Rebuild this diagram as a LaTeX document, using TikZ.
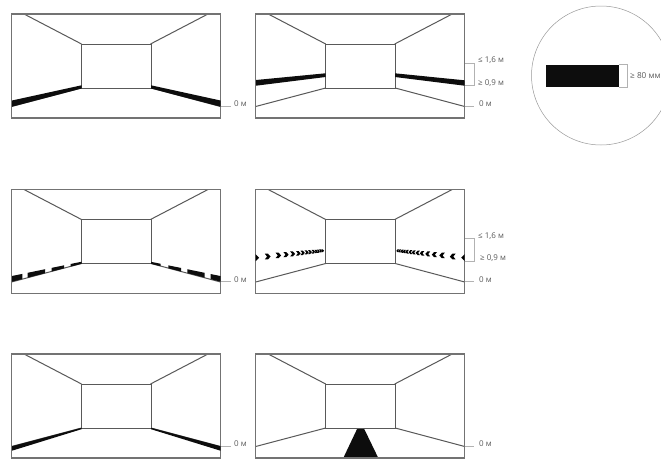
\documentclass[tikz,border=0pt]{standalone}
\usepackage{fontspec}
\setmainfont{Open Sans}
\tikzset{
  wall/.style={draw=black!65,line width=1pt},
  frame/.style={draw=black!55,line width=1.1pt},
  tick/.style={draw=black!30,line width=0.6pt},
  lbl/.style={anchor=west,inner sep=0pt,text=black!65,font=\fontsize{8}{9}\selectfont},
  band/.style={fill=black!95!white,draw=none},
}
% #1 x offset of the left frame edge, #2 y offset of the top frame edge
\newcommand{\roomframe}[2]{%
  \begin{scope}[shift={(#1,#2)}]
    \draw[wall] (12.5,0) -- (70,30) (196.5,0) -- (139,30);
    \draw[wall] (70,30) rectangle (139.5,74);
    \draw[wall] (70,74) -- (0,92.5) (139.5,74) -- (209,92.5);
    \draw[frame] (0,0) rectangle (209,104);
  \end{scope}}
\newcommand{\chevR}[3]{\fill[black] ({#1-.5*#3},{#2-.5*#3}) -- ({#1+.05*#3},{#2-.5*#3}) -- ({#1+.5*#3},#2) -- ({#1+.05*#3},{#2+.5*#3}) -- ({#1-.5*#3},{#2+.5*#3}) -- ({#1-.1*#3},#2) -- cycle;}
\newcommand{\chevL}[3]{\fill[black] ({#1+.5*#3},{#2-.5*#3}) -- ({#1-.05*#3},{#2-.5*#3}) -- ({#1-.5*#3},#2) -- ({#1-.05*#3},{#2+.5*#3}) -- ({#1+.5*#3},{#2+.5*#3}) -- ({#1+.1*#3},#2) -- cycle;}
\begin{document}
\begin{tikzpicture}[x=1pt,y=-1pt]
\useasboundingbox (0,0) rectangle (661,458);
\clip (0,0) rectangle (661,458);
\fill[white] (0,0) rectangle (661,458);

% Row 1
\roomframe{11.5}{14}
\fill[band] (12,100.5) -- (81.5,85.3) -- (81.5,88.5) -- (12,106.7) -- cycle;
\fill[band] (151,85.3) -- (220.5,100.5) -- (220.5,106.7) -- (151,88.5) -- cycle;
\roomframe{255.7}{14}
\fill[band] (256,80) -- (325.5,73.3) -- (325.5,77) -- (256,85.7) -- cycle;
\fill[band] (395,73.3) -- (464.5,80.3) -- (464.5,85.7) -- (395,77) -- cycle;

% Row 2, broken strips
\roomframe{11.5}{189.5}
\foreach \a/\b in {12/22.3,27.7/45,51.7/64,70.7/81.5}{
  \fill[band] (\a,{276-(\a-12)*0.205}) -- (\b,{276-(\b-12)*0.205}) --
              (\b,{281.7-(\b-12)*0.257}) -- (\a,{281.7-(\a-12)*0.257}) -- cycle;
}
\foreach \a/\b in {151/160.7,168.3/181,187.3/204.7,210.7/220.5}{
  \fill[band] (\a,{261.8+(\a-151)*0.205}) -- (\b,{261.8+(\b-151)*0.205}) --
              (\b,{263.8+(\b-151)*0.257}) -- (\a,{263.8+(\a-151)*0.257}) -- cycle;
}
\roomframe{255.7}{189.5}
% Row 2, chevrons
\fill[black] (255.7,254.2) -- (259.2,257.7) -- (255.7,261.2) -- cycle;
\fill[black] (464.7,254.2) -- (461.2,257.7) -- (464.7,261.2) -- cycle;
\foreach \v/\h in {53/5.8,85/5.5,108/5.2,128/4.9,145/4.6,158/4.3,170/4,180/3.8,190/3.6,198/3.4,205/3.2,212/3,218/2.9}{
  \pgfmathsetmacro{\px}{250+\v/3}
  \pgfmathsetmacro{\py}{257.7-(\px-256.7)*0.105}
  \chevR{\px}{\py}{\h}
  \pgfmathsetmacro{\qx}{720.4-\px}
  \chevL{\qx}{\py}{\h}
}

% Row 3
\roomframe{11.5}{354}
\fill[band] (12,446.2) -- (81.5,427.8) -- (81.5,429.2) -- (12,450.7) -- cycle;
\fill[band] (151,427.8) -- (220.5,446.2) -- (220.5,450.7) -- (151,429.2) -- cycle;
\fill[band] (357.3,428.5) -- (364,428.5) -- (378.3,458) -- (343.3,458) -- cycle;
\roomframe{255.7}{354}

% Dimension ticks and labels
\draw[tick] (220.5,106) -- (231,106);
\node[lbl] (r1a) at (234,104) {0 м};
\draw[tick] (465,63) -- (474,63) -- (474,85) -- (465,85);
\draw[tick] (465,106) -- (474,106);
\node[lbl] (r1b) at (478,60.5) {≤ 1,6 м};
\node[lbl] (r1c) at (478,83) {≥ 0,9 м};
\node[lbl] (r1d) at (479,104) {0 м};

\draw[tick] (220.5,281.5) -- (231,281.5);
\node[lbl] (r2a) at (234,279.5) {0 м};
\draw[tick] (465,238.5) -- (474,238.5) -- (474,261) -- (465,261);
\draw[tick] (465,281.5) -- (474,281.5);
\node[lbl] (r2b) at (478,236) {≤ 1,6 м};
\node[lbl] (r2c) at (480,258.5) {≥ 0,9 м};
\node[lbl] (r2d) at (479,280) {0 м};

\draw[tick] (220.5,446) -- (231,446);
\node[lbl] (r3a) at (234,444) {0 м};
\draw[tick] (465,446) -- (474,446);
\node[lbl] (r3b) at (479,444) {0 м};

% Detail circle
\draw[black!40,line width=0.5pt] (601,75.5) circle (69.5);
\fill[band] (546,64.5) rectangle (619,87.3);
\draw[tick] (619,64.5) -- (628,64.5) (619,87.3) -- (628,87.3) (627,64.5) -- (627,87.3);
\node[lbl,font=\fontsize{8.2}{9}\selectfont] (dim) at (630,76) {≥ 80 мм};
\end{tikzpicture}
\end{document}
